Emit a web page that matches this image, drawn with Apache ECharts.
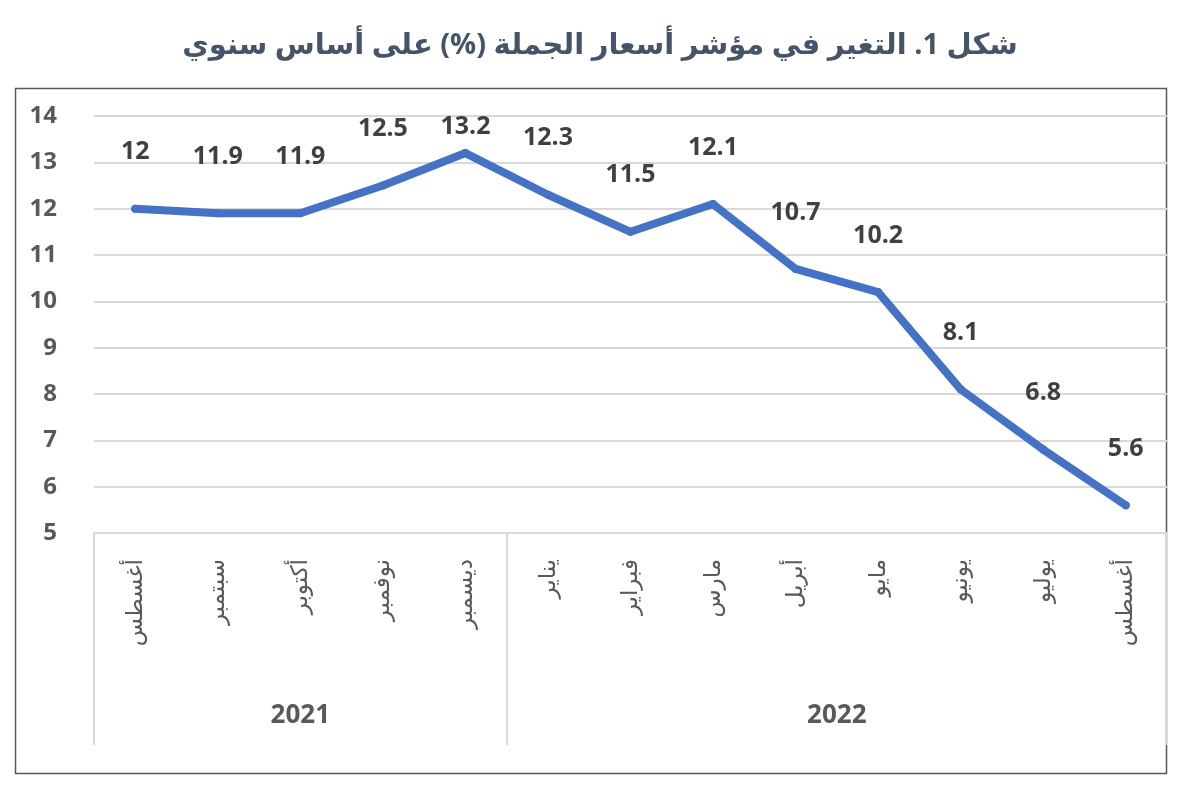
<!DOCTYPE html>
<html>
<head>
<meta charset="utf-8">
<script src="https://cdn.jsdelivr.net/npm/echarts@6/dist/echarts.min.js"></script>
<style>
  html, body { margin: 0; padding: 0; background: #fff; }
  #chart { width: 1200px; height: 809px; }
</style>
</head>
<body>
<div id="chart"></div>
<script>
// بيانات الرسم
var months = ['أغسطس', 'سبتمبر', 'أكتوبر', 'نوفمبر', 'ديسمبر', 'يناير', 'فبراير', 'مارس', 'أبريل', 'مايو', 'يونيو', 'يوليو', 'أغسطس'];
var values = [12, 11.9, 11.9, 12.5, 13.2, 12.3, 11.5, 12.1, 10.7, 10.2, 8.1, 6.8, 5.6];
var years = ['2021', '2022'];
var yearCounts = [5, 8];
var yTicks = [5, 6, 7, 8, 9, 10, 11, 12, 13, 14];

var chart = echarts.init(document.getElementById('chart'));

// second axis: half-month slots, so group edges and group centres fall on slots
var yearSlots = [];
var yearEdges = [0];
var yearCentres = {};
var pos = 0;
for (var k = 0; k <= months.length * 2; k++) yearSlots.push('');
years.forEach(function (y, i) {
    yearCentres[pos + yearCounts[i]] = y;
    pos += yearCounts[i] * 2;
    yearEdges.push(pos);
});
Object.keys(yearCentres).forEach(function (c) { yearSlots[c] = yearCentres[c]; });

var maxVal = Math.max.apply(null, values);
var seriesData = values.map(function (v) {
    return {
        value: v,
        label: { distance: v === maxVal ? 10 : 40 }
    };
});

var font = "'Open Sans', 'Noto Sans', 'DejaVu Sans', sans-serif";

var option = {
    animation: false,
    textStyle: { fontFamily: font },
    title: {
        text: 'شكل 1. التغير في مؤشر أسعار الجملة (%) على أساس سنوي',
        left: 'center',
        top: 26,
        textStyle: {
            fontFamily: font,
            fontSize: 29,
            fontWeight: 'bold',
            color: '#44546a'
        }
    },
    graphic: [{
        type: 'rect',
        shape: { x: 15.5, y: 88.5, width: 1151, height: 685 },
        style: { fill: 'none', stroke: '#595959', lineWidth: 1.5 },
        silent: true
    }],
    grid: { left: 94, right: 33, top: 116, bottom: 276 },
    xAxis: [{
        type: 'category',
        data: months,
        boundaryGap: true,
        axisLine: { show: true, lineStyle: { color: '#d9d9d9', width: 2 } },
        axisTick: { show: false },
        axisLabel: {
            rotate: 90,
            margin: 26,
            interval: 0,
            fontSize: 23,
            color: '#595959',
            fontFamily: font
        }
    }, {
        type: 'category',
        data: yearSlots,
        boundaryGap: false,
        position: 'bottom',
        axisLine: { show: false },
        axisTick: {
            show: true,
            length: 212,
            interval: function (idx) { return yearEdges.indexOf(idx) >= 0; },
            lineStyle: { color: '#d9d9d9', width: 2 }
        },
        axisLabel: {
            interval: function (idx) { return yearSlots[idx] !== ''; },
            margin: 170,
            fontSize: 26,
            fontWeight: 'bold',
            color: '#595959',
            fontFamily: font
        }
    }],
    yAxis: {
        type: 'value',
        min: yTicks[0],
        max: yTicks[yTicks.length - 1],
        interval: 1,
        axisLine: { show: false },
        axisTick: { show: false },
        splitLine: { lineStyle: { color: '#d9d9d9', width: 2 } },
        axisLabel: {
            margin: 37,
            fontSize: 24,
            fontWeight: 'bold',
            color: '#595959',
            fontFamily: font
        }
    },
    series: [{
        type: 'line',
        data: seriesData,
        symbol: 'circle',
        symbolSize: 8,
        itemStyle: { color: '#4472c4' },
        lineStyle: { color: '#4472c4', width: 8, cap: 'round', join: 'round' },
        label: {
            show: true,
            position: 'top',
            fontSize: 25,
            fontWeight: 'bold',
            color: '#404040',
            fontFamily: font
        }
    }]
};

chart.setOption(option);
window.addEventListener('resize', function () {
    chart.resize();
});
</script>
</body>
</html>
